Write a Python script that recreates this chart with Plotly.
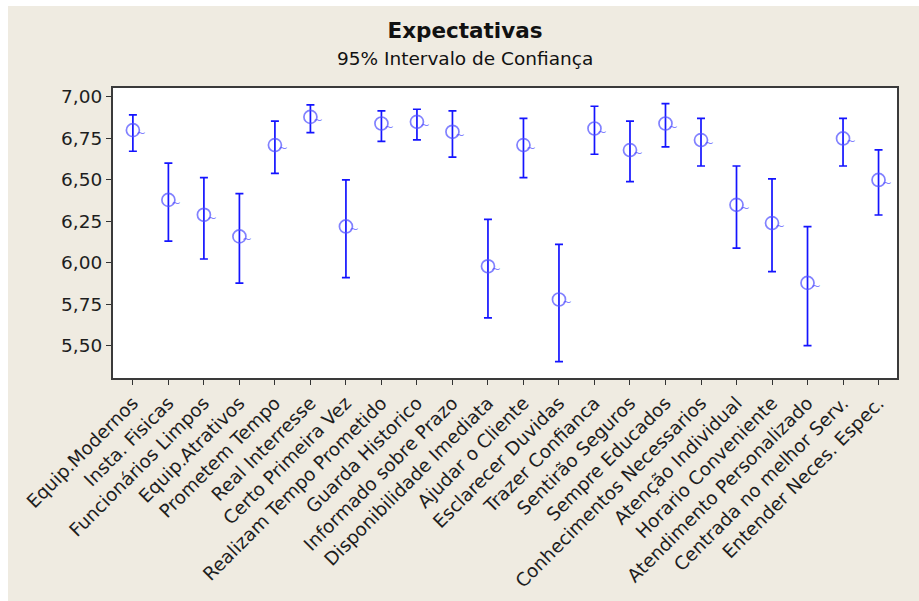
import plotly.graph_objects as go

# Items of the "Expectativas" questionnaire
categories = [
    "Equip.Modernos", "Insta. Fisicas", "Funcionários Limpos", "Equip.Atrativos",
    "Prometem Tempo", "Real Interresse", "Certo Primeira Vez", "Realizam Tempo Prometido",
    "Guarda Historico", "Informado sobre Prazo", "Disponibilidade Imediata",
    "Ajudar o Cliente", "Esclarecer Duvidas", "Trazer Confianca", "Sentirão Seguros",
    "Sempre Educados", "Conhecimentos Necessarios", "Atenção Individual",
    "Horario Conveniente", "Atendimento Personalizado", "Centrada no melhor Serv.",
    "Entender Neces. Espec.",
]

# Mean and 95% confidence limits for each item
means = [6.80, 6.38, 6.29, 6.16, 6.71, 6.88, 6.22, 6.84, 6.85, 6.79, 5.98,
         6.71, 5.78, 6.81, 6.68, 6.84, 6.74, 6.35, 6.24, 5.88, 6.75, 6.50]
lower = [6.673, 6.131, 6.024, 5.878, 6.540, 6.785, 5.912, 6.733, 6.741, 6.637, 5.669,
         6.514, 5.406, 6.655, 6.490, 6.699, 6.584, 6.089, 5.948, 5.502, 6.584, 6.289]
upper = [6.892, 6.602, 6.514, 6.418, 6.855, 6.952, 6.500, 6.916, 6.926, 6.916, 6.263,
         6.871, 6.112, 6.944, 6.855, 6.960, 6.871, 6.584, 6.506, 6.219, 6.871, 6.681]

y_ticks = [5.50, 5.75, 6.00, 6.25, 6.50, 6.75, 7.00]

x_idx = list(range(len(categories)))
err_plus = [u - m for u, m in zip(upper, means)]
err_minus = [m - l for m, l in zip(means, lower)]

BG = "#EFEBE1"
FONT = "DejaVu Sans"
SYMBOL_COLOR = "rgba(80,80,255,0.72)"

fig = go.Figure()
fig.add_trace(go.Scatter(
    x=x_idx, y=means,
    mode="markers",
    marker=dict(symbol="circle-open", size=13, color=SYMBOL_COLOR, line=dict(width=1.7)),
    error_y=dict(type="data", symmetric=False, array=err_plus, arrayminus=err_minus,
                 color="#1414FF", thickness=1.7, width=4),
    showlegend=False,
    cliponaxis=False,
))

# small tail drawn next to each mean symbol
annotations = [
    dict(x=xi, y=m, xref="x", yref="y", text="~", showarrow=False,
         xshift=8, yshift=-3, font=dict(family=FONT, size=12, color=SYMBOL_COLOR))
    for xi, m in zip(x_idx, means)
]
annotations.append(dict(
    text="95% Intervalo de Confiança", xref="paper", yref="paper",
    x=(465 - 113) / 784, y=(378 - 58) / 290, xanchor="center", yanchor="middle",
    showarrow=False, font=dict(family=FONT, size=18.5, color="#111"),
))

fig.update_layout(
    width=919, height=601,
    margin=dict(l=113, r=22, t=88, b=223),
    paper_bgcolor=BG, plot_bgcolor="white",
    separators=", ",
    font=dict(family=FONT, color="#1e1e1e"),
    title=dict(
        text="<b>Expectativas</b>",
        x=465 / 919, xanchor="center", y=1 - 30 / 601, yanchor="middle",
        font=dict(family=FONT, size=21.5, color="#111"),
    ),
    annotations=annotations,
    xaxis=dict(
        range=[-0.56, 21.52], automargin=False,
        tickmode="array", tickvals=x_idx, ticktext=categories,
        tickangle=-45, ticks="outside", ticklen=5, tickcolor="#333",
        tickfont=dict(family=FONT, size=18.5, color="#1e1e1e"),
        showline=True, linecolor="#3a3a3a", linewidth=2, mirror=True,
        showgrid=False, zeroline=False,
    ),
    yaxis=dict(
        range=[5.307, 7.054], automargin=False,
        tickmode="array", tickvals=y_ticks, tickformat=".2f",
        ticks="outside", ticklen=5, tickcolor="#333",
        tickfont=dict(family=FONT, size=18.5, color="#1e1e1e"),
        showline=True, linecolor="#3a3a3a", linewidth=2, mirror=True,
        showgrid=False, zeroline=False,
    ),
    shapes=[
        # thin white strips along the top and left edges of the page
        dict(type="rect", xref="paper", yref="paper",
             x0=-0.2, x1=1.1, y0=(378 - 6) / 290, y1=1.4,
             fillcolor="white", line=dict(width=0), layer="below"),
        dict(type="rect", xref="paper", yref="paper",
             x0=-0.2, x1=(8 - 113) / 784, y0=-1.0, y1=1.4,
             fillcolor="white", line=dict(width=0), layer="below"),
    ],
)

fig.write_html("out.html")
